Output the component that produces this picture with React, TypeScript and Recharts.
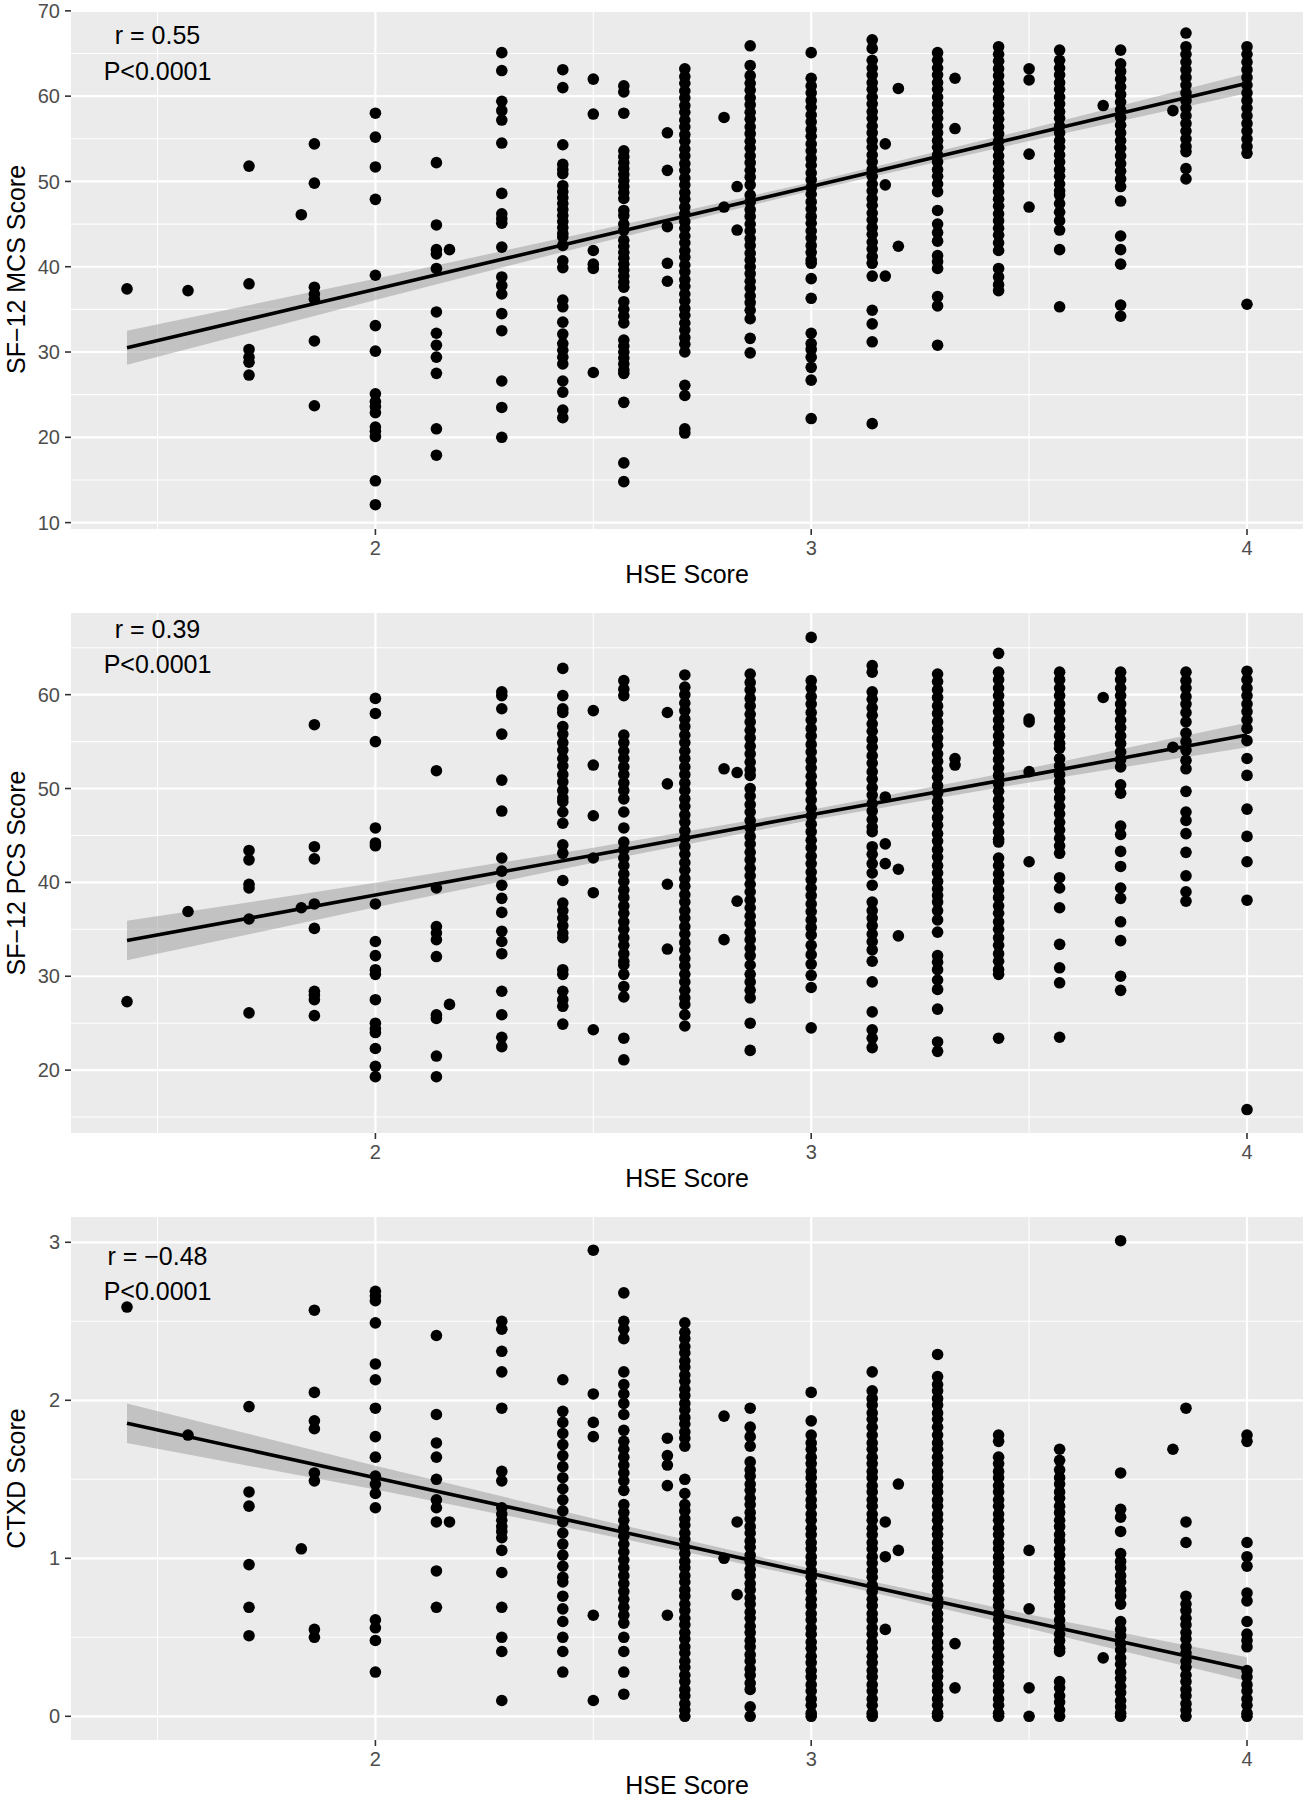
import React from 'react';
import {
  ComposedChart,
  Scatter,
  Line,
  Area,
  XAxis,
  YAxis,
  CartesianGrid,
  ReferenceDot,
  Label,
} from 'recharts';

const FONT = '"Liberation Sans", Arial, Helvetica, sans-serif';

// ---------- shared x axis (HSE Score) ----------
const hseDomain: [number, number] = [1.3015, 4.1285];
const hseTicks = [2, 3, 4];
const hseMinor = [1.5, 2.5, 3.5];

type Col = [number, number[]];

// ---------- Panel 1 : SF-12 MCS ----------
const mcsTicks = [10, 20, 30, 40, 50, 60, 70];
const mcsMinor = [15, 25, 35, 45, 55, 65];
const mcsDomain: [number, number] = [9.25, 70.1];
const mcsColumns: Col[] = [
  [1.43, [37.4]],
  [1.57, [37.2]],
  [1.71, [51.8, 38.0, 30.3, 29.4, 28.8, 27.3]],
  [1.83, [46.1]],
  [1.86, [54.4, 49.8, 37.6, 36.8, 36.2, 31.3, 23.7]],
  [2.0, [58.0, 55.2, 51.7, 47.9, 39.0, 33.1, 30.1, 25.1, 24.2, 23.6, 22.9, 21.2, 20.7, 20.1, 14.9, 12.1]],
  [2.14, [52.2, 44.9, 42.0, 41.5, 39.8, 34.7, 32.2, 30.8, 29.4, 27.5, 21.0, 17.9]],
  [2.17, [42.0]],
  [2.29, [65.1, 63.0, 59.4, 58.3, 57.2, 54.5, 48.6, 46.2, 45.6, 45.1, 42.3, 38.8, 37.8, 36.8, 34.5, 32.5, 26.6, 23.5, 20.0]],
  [2.43, [63.1, 61.0, 54.3, 52.0, 51.4, 50.9, 49.5, 48.8, 48.1, 47.4, 46.7, 46.0, 45.3, 44.6, 43.9, 43.5, 42.5, 40.7, 39.9, 36.1, 35.3, 33.5, 32.1, 31.0, 30.2, 29.4, 28.6, 26.6, 25.3, 23.2, 22.3]],
  [2.5, [62.0, 57.9, 41.9, 40.3, 39.8, 27.6]],
  [2.57, [61.2, 60.5, 58.0, 53.6, 52.9, 52.2, 51.5, 50.8, 50.1, 49.4, 48.7, 48.0, 46.6, 46.0, 45.0, 44.3, 43.1, 42.4, 41.7, 41.0, 40.3, 39.6, 38.9, 38.2, 37.6, 35.9, 35.0, 34.2, 33.4, 31.4, 30.7, 30.0, 29.3, 28.6, 27.9, 27.5, 24.1, 17.0, 14.8]],
  [2.67, [55.7, 51.3, 44.7, 40.4, 38.3]],
  [2.71, [63.2, 62.3, 61.5, 60.6, 59.8, 58.9, 58.1, 57.2, 56.4, 55.5, 54.7, 53.8, 53.0, 52.1, 51.3, 50.4, 49.6, 48.7, 47.9, 47.0, 46.2, 45.3, 44.5, 43.6, 42.8, 41.9, 41.1, 40.2, 39.4, 38.5, 37.7, 36.8, 36.0, 35.1, 34.3, 33.4, 32.6, 31.7, 30.9, 30.0, 26.1, 24.9, 21.0, 20.5]],
  [2.8, [57.5, 47.0]],
  [2.83, [49.4, 44.3]],
  [2.86, [65.9, 63.6, 62.4, 61.5, 60.7, 59.8, 59.0, 58.1, 57.3, 56.4, 55.6, 54.7, 53.9, 53.0, 52.2, 51.3, 50.5, 49.6, 48.4, 47.6, 46.7, 45.9, 45.0, 44.2, 43.3, 42.5, 41.6, 40.8, 40.0, 39.2, 38.3, 37.5, 36.6, 35.8, 34.9, 33.9, 31.6, 29.9]],
  [3.0, [65.1, 62.1, 61.2, 60.4, 59.5, 58.7, 57.8, 57.0, 56.1, 55.3, 54.4, 53.6, 52.7, 51.9, 51.0, 50.2, 49.3, 48.5, 47.6, 46.8, 45.9, 45.1, 44.2, 43.4, 42.5, 41.7, 40.8, 40.4, 38.6, 36.3, 32.2, 31.0, 30.3, 29.4, 28.2, 26.7, 22.2]],
  [3.14, [66.6, 65.6, 64.2, 63.3, 62.5, 61.6, 60.8, 59.9, 59.1, 58.2, 57.4, 56.5, 55.7, 54.8, 54.0, 53.1, 52.3, 51.4, 50.6, 49.7, 48.9, 48.0, 47.2, 46.3, 45.5, 44.6, 43.8, 42.9, 42.1, 41.2, 40.4, 38.9, 34.9, 33.3, 31.2, 21.6]],
  [3.17, [54.4, 49.6, 38.9]],
  [3.2, [60.9, 42.4]],
  [3.29, [65.1, 64.2, 63.3, 62.5, 61.6, 60.8, 59.9, 59.1, 58.2, 57.4, 56.5, 55.7, 54.8, 54.0, 53.1, 52.3, 51.4, 50.6, 49.7, 48.8, 46.6, 45.0, 44.0, 43.0, 41.3, 40.6, 39.8, 36.5, 35.4, 30.8]],
  [3.33, [62.1, 56.2]],
  [3.43, [65.8, 64.9, 64.1, 63.2, 62.4, 61.5, 60.7, 59.8, 59.0, 58.1, 57.3, 56.4, 55.6, 54.7, 53.9, 53.0, 52.2, 51.3, 50.5, 49.6, 48.8, 47.9, 47.1, 46.2, 45.4, 44.5, 43.7, 42.8, 41.9, 39.8, 38.8, 37.9, 37.2]],
  [3.5, [63.2, 61.9, 53.2, 47.0]],
  [3.57, [65.4, 64.2, 63.3, 62.5, 61.6, 60.8, 59.9, 59.1, 58.2, 57.4, 56.5, 55.7, 54.8, 54.0, 53.1, 52.3, 51.4, 50.6, 49.7, 48.9, 48.4, 47.4, 46.4, 45.4, 44.3, 42.0, 35.3]],
  [3.67, [58.9]],
  [3.71, [65.4, 63.8, 62.9, 62.0, 61.1, 60.2, 59.3, 58.4, 57.5, 56.6, 55.7, 54.8, 53.9, 53.0, 52.1, 51.2, 50.3, 49.4, 47.7, 43.6, 42.0, 40.3, 35.5, 34.2]],
  [3.83, [58.3]],
  [3.86, [67.4, 65.8, 64.9, 64.0, 63.1, 62.2, 61.3, 60.4, 59.5, 58.6, 57.7, 56.8, 55.9, 55.0, 54.1, 53.5, 51.5, 50.3]],
  [4.0, [65.8, 64.9, 64.0, 63.1, 62.2, 61.3, 60.4, 59.5, 58.6, 57.7, 56.8, 55.9, 55.0, 54.1, 53.3, 35.6]],
];
const mcsFitX = [1.43, 2.0, 2.5, 3.0, 3.5, 4.0];
const mcsFit = [30.5, 37.35, 43.4, 49.4, 55.45, 61.5];
const mcsLow = [28.5, 36.1, 42.65, 48.9, 54.75, 60.35];
const mcsHigh = [32.5, 38.6, 44.15, 49.9, 56.15, 62.65];

// ---------- Panel 2 : SF-12 PCS ----------
const pcsTicks = [20, 30, 40, 50, 60];
const pcsMinor = [15, 25, 35, 45, 55, 65];
const pcsDomain: [number, number] = [13.3, 68.7];
const pcsColumns: Col[] = [
  [1.43, [27.3]],
  [1.57, [36.9]],
  [1.71, [43.4, 42.4, 39.8, 39.4, 36.1, 26.1]],
  [1.83, [37.3]],
  [1.86, [56.8, 43.8, 42.5, 37.7, 35.1, 28.4, 28.0, 27.5, 25.8]],
  [2.0, [59.6, 58.0, 55.0, 45.8, 44.2, 43.9, 37.7, 33.7, 32.2, 30.7, 30.2, 27.5, 25.0, 24.4, 24.0, 22.3, 20.4, 19.3]],
  [2.14, [51.9, 39.4, 35.3, 34.6, 33.9, 32.1, 25.9, 25.5, 21.5, 19.3]],
  [2.17, [27.0]],
  [2.29, [60.3, 59.9, 58.5, 55.8, 50.9, 47.6, 42.6, 41.2, 39.7, 38.3, 36.8, 34.8, 33.7, 32.4, 28.4, 25.9, 23.5, 22.5]],
  [2.43, [62.8, 59.9, 58.5, 58.1, 56.6, 55.8, 54.9, 54.1, 53.2, 52.4, 51.5, 50.7, 49.8, 49.0, 48.6, 47.5, 46.3, 44.0, 43.1, 40.2, 37.8, 37.0, 36.2, 35.4, 34.6, 34.1, 30.7, 30.2, 28.4, 27.5, 26.8, 24.9]],
  [2.5, [58.3, 52.5, 47.1, 42.6, 38.9, 24.3]],
  [2.57, [61.5, 60.6, 59.9, 55.7, 54.9, 54.0, 53.2, 52.3, 51.5, 50.6, 49.8, 48.9, 47.5, 45.8, 44.3, 43.5, 42.6, 41.8, 40.9, 40.1, 39.2, 38.4, 37.5, 36.7, 35.8, 35.0, 34.1, 33.3, 32.4, 31.6, 31.2, 30.2, 28.9, 27.8, 23.4, 21.1]],
  [2.67, [58.1, 50.5, 39.8, 32.9]],
  [2.71, [62.1, 60.8, 60.0, 59.1, 58.3, 57.4, 56.6, 55.7, 54.9, 54.0, 53.2, 52.3, 51.5, 50.6, 49.8, 48.9, 48.1, 47.2, 46.4, 45.5, 44.7, 43.8, 43.0, 42.1, 41.3, 40.4, 39.6, 38.7, 37.9, 37.0, 36.2, 35.3, 34.5, 33.6, 32.8, 31.9, 31.1, 30.2, 29.4, 28.5, 27.7, 27.0, 25.9, 24.7]],
  [2.8, [52.1, 33.9]],
  [2.83, [51.7, 38.0]],
  [2.86, [62.2, 61.3, 60.5, 59.6, 58.8, 57.9, 57.1, 56.2, 55.4, 54.5, 53.7, 52.8, 52.0, 51.4, 50.0, 49.2, 48.3, 47.5, 46.6, 45.8, 44.9, 44.1, 43.2, 42.4, 41.5, 40.7, 39.8, 39.0, 38.1, 37.3, 36.4, 35.6, 34.7, 33.9, 33.0, 32.2, 31.2, 30.2, 29.4, 28.5, 27.7, 25.0, 22.1]],
  [3.0, [66.1, 61.5, 60.7, 59.8, 59.0, 58.1, 57.3, 56.4, 55.6, 54.7, 53.9, 53.0, 52.2, 51.3, 50.5, 49.6, 48.8, 47.9, 47.1, 46.2, 45.4, 44.5, 43.7, 42.8, 42.0, 41.1, 40.3, 39.4, 38.6, 37.7, 36.9, 36.0, 35.2, 34.4, 33.3, 32.3, 31.3, 30.1, 28.8, 24.5]],
  [3.14, [63.1, 62.4, 60.3, 59.5, 58.6, 57.8, 56.9, 56.1, 55.2, 54.4, 53.5, 52.7, 51.8, 51.0, 50.1, 49.3, 48.4, 47.6, 46.7, 45.9, 45.4, 43.8, 43.0, 42.0, 41.0, 39.7, 37.9, 37.0, 36.2, 35.4, 34.5, 33.7, 32.8, 31.6, 29.4, 26.2, 24.3, 23.4, 22.4]],
  [3.17, [49.1, 44.1, 42.0]],
  [3.2, [41.4, 34.3]],
  [3.29, [62.2, 61.4, 60.5, 59.7, 58.8, 58.0, 57.1, 56.3, 55.4, 54.6, 53.7, 52.9, 52.0, 51.2, 50.3, 49.5, 48.6, 47.8, 46.9, 46.1, 45.2, 44.4, 43.5, 42.7, 41.8, 41.0, 40.1, 39.3, 38.6, 37.9, 37.0, 36.0, 34.7, 32.2, 31.5, 30.7, 29.6, 28.6, 26.5, 23.0, 22.0]],
  [3.33, [53.2, 52.5]],
  [3.43, [64.4, 62.4, 61.6, 60.7, 59.9, 59.0, 58.2, 57.3, 56.5, 55.6, 54.8, 53.9, 53.1, 52.2, 51.4, 50.5, 49.7, 48.8, 48.0, 47.1, 46.3, 45.4, 44.6, 44.3, 42.6, 41.8, 40.9, 40.1, 39.2, 38.4, 37.5, 36.7, 35.8, 35.0, 34.1, 33.3, 32.4, 31.6, 30.7, 30.2, 23.4]],
  [3.5, [57.4, 57.1, 51.8, 42.2]],
  [3.57, [62.4, 61.6, 60.7, 59.9, 59.0, 58.2, 57.3, 56.5, 55.6, 54.8, 54.3, 53.2, 52.4, 51.5, 50.7, 49.8, 49.0, 48.1, 47.3, 46.4, 45.6, 44.7, 43.9, 43.1, 40.5, 39.4, 37.3, 33.4, 30.9, 29.3, 23.5]],
  [3.67, [59.7]],
  [3.71, [62.4, 61.6, 60.7, 59.9, 59.0, 58.2, 57.3, 56.5, 55.6, 54.8, 53.9, 53.1, 52.3, 50.4, 49.5, 46.0, 45.1, 43.3, 41.7, 39.4, 38.3, 35.8, 33.8, 30.0, 28.5]],
  [3.83, [54.4]],
  [3.86, [62.4, 61.5, 60.7, 59.8, 59.0, 58.1, 57.1, 55.9, 55.0, 54.1, 53.0, 52.1, 49.7, 47.5, 46.6, 45.2, 43.2, 40.7, 39.0, 38.0]],
  [4.0, [62.5, 61.6, 60.7, 59.9, 59.0, 58.2, 57.3, 56.4, 55.1, 53.2, 51.4, 47.8, 44.9, 42.2, 38.1, 15.8]],
];
const pcsFitX = [1.43, 2.0, 2.5, 3.0, 3.5, 4.0];
const pcsFit = [33.8, 38.65, 42.9, 47.2, 51.4, 55.7];
const pcsLow = [31.7, 37.35, 42.1, 46.65, 50.65, 54.4];
const pcsHigh = [35.9, 39.95, 43.7, 47.75, 52.15, 57.0];

// ---------- Panel 3 : CTXD ----------
const ctxTicks = [0, 1, 2, 3];
const ctxMinor = [0.5, 1.5, 2.5];
const ctxDomain: [number, number] = [-0.15, 3.16];
const ctxColumns: Col[] = [
  [1.43, [2.59]],
  [1.57, [1.78]],
  [1.71, [1.96, 1.42, 1.33, 0.96, 0.69, 0.51]],
  [1.83, [1.06]],
  [1.86, [2.57, 2.05, 1.87, 1.82, 1.54, 1.49, 0.55, 0.5]],
  [2.0, [2.69, 2.66, 2.63, 2.49, 2.23, 2.13, 1.95, 1.77, 1.64, 1.52, 1.47, 1.41, 1.32, 0.61, 0.56, 0.48, 0.28]],
  [2.14, [2.41, 1.91, 1.73, 1.64, 1.5, 1.37, 1.32, 1.23, 0.92, 0.69]],
  [2.17, [1.23]],
  [2.29, [2.5, 2.45, 2.31, 2.18, 1.95, 1.55, 1.49, 1.32, 1.28, 1.24, 1.2, 1.17, 1.13, 1.05, 0.91, 0.69, 0.5, 0.41, 0.1]],
  [2.43, [2.13, 1.93, 1.86, 1.79, 1.72, 1.65, 1.58, 1.51, 1.44, 1.37, 1.3, 1.23, 1.16, 1.09, 1.02, 0.95, 0.88, 0.85, 0.76, 0.68, 0.6, 0.5, 0.41, 0.28]],
  [2.5, [2.95, 2.04, 1.86, 1.77, 0.64, 0.1]],
  [2.57, [2.68, 2.5, 2.45, 2.39, 2.18, 2.1, 2.04, 1.98, 1.91, 1.81, 1.74, 1.69, 1.64, 1.59, 1.54, 1.49, 1.43, 1.34, 1.29, 1.24, 1.19, 1.14, 1.09, 1.04, 0.99, 0.94, 0.89, 0.84, 0.79, 0.74, 0.69, 0.64, 0.59, 0.5, 0.41, 0.28, 0.14]],
  [2.67, [1.76, 1.65, 1.59, 1.46, 0.64]],
  [2.71, [2.49, 2.43, 2.39, 2.34, 2.3, 2.25, 2.21, 2.16, 2.12, 2.07, 2.03, 1.98, 1.94, 1.89, 1.85, 1.8, 1.76, 1.71, 1.5, 1.41, 1.34, 1.3, 1.25, 1.21, 1.16, 1.12, 1.07, 1.03, 0.98, 0.94, 0.89, 0.85, 0.8, 0.76, 0.71, 0.67, 0.62, 0.58, 0.53, 0.49, 0.44, 0.4, 0.35, 0.31, 0.26, 0.22, 0.17, 0.13, 0.08, 0.04, 0.0]],
  [2.8, [1.9, 1.0]],
  [2.83, [1.23, 0.77]],
  [2.86, [1.95, 1.83, 1.77, 1.71, 1.61, 1.56, 1.52, 1.47, 1.43, 1.38, 1.34, 1.29, 1.25, 1.2, 1.16, 1.11, 1.07, 1.02, 0.98, 0.93, 0.89, 0.84, 0.8, 0.75, 0.71, 0.66, 0.62, 0.57, 0.53, 0.48, 0.44, 0.39, 0.35, 0.3, 0.26, 0.21, 0.17, 0.06, 0.0]],
  [3.0, [2.05, 1.87, 1.78, 1.73, 1.69, 1.64, 1.6, 1.55, 1.51, 1.46, 1.42, 1.37, 1.33, 1.28, 1.24, 1.19, 1.15, 1.1, 1.06, 1.01, 0.97, 0.92, 0.88, 0.83, 0.79, 0.74, 0.7, 0.65, 0.61, 0.56, 0.52, 0.47, 0.43, 0.38, 0.34, 0.29, 0.25, 0.2, 0.16, 0.11, 0.07, 0.02, 0.0]],
  [3.14, [2.18, 2.06, 2.01, 1.97, 1.92, 1.88, 1.83, 1.78, 1.73, 1.69, 1.64, 1.6, 1.55, 1.51, 1.46, 1.42, 1.37, 1.33, 1.28, 1.24, 1.19, 1.15, 1.1, 1.06, 1.01, 0.97, 0.92, 0.88, 0.83, 0.79, 0.74, 0.7, 0.65, 0.61, 0.56, 0.52, 0.47, 0.43, 0.38, 0.34, 0.29, 0.25, 0.2, 0.16, 0.11, 0.07, 0.02, 0.0]],
  [3.17, [1.23, 1.01, 0.55]],
  [3.2, [1.47, 1.05]],
  [3.29, [2.29, 2.15, 2.1, 2.06, 2.01, 1.97, 1.92, 1.88, 1.83, 1.78, 1.73, 1.69, 1.64, 1.6, 1.55, 1.51, 1.46, 1.42, 1.37, 1.33, 1.28, 1.24, 1.19, 1.15, 1.1, 1.06, 1.01, 0.97, 0.92, 0.88, 0.83, 0.79, 0.74, 0.7, 0.65, 0.61, 0.56, 0.52, 0.47, 0.43, 0.38, 0.34, 0.29, 0.25, 0.2, 0.16, 0.11, 0.07, 0.02, 0.0]],
  [3.33, [0.46, 0.18]],
  [3.43, [1.78, 1.74, 1.64, 1.6, 1.55, 1.51, 1.46, 1.42, 1.37, 1.33, 1.28, 1.24, 1.19, 1.15, 1.1, 1.06, 1.01, 0.97, 0.92, 0.88, 0.83, 0.79, 0.74, 0.7, 0.65, 0.61, 0.56, 0.52, 0.47, 0.43, 0.38, 0.34, 0.29, 0.25, 0.2, 0.16, 0.11, 0.07, 0.02, 0.0]],
  [3.5, [1.05, 0.68, 0.18, 0.0]],
  [3.57, [1.69, 1.62, 1.56, 1.51, 1.47, 1.42, 1.38, 1.33, 1.29, 1.24, 1.2, 1.15, 1.11, 1.06, 1.02, 0.97, 0.93, 0.88, 0.84, 0.79, 0.75, 0.7, 0.66, 0.61, 0.57, 0.52, 0.48, 0.43, 0.41, 0.22, 0.18, 0.13, 0.09, 0.04, 0.0]],
  [3.67, [0.37]],
  [3.71, [3.01, 1.54, 1.31, 1.26, 1.17, 1.03, 0.98, 0.94, 0.89, 0.85, 0.8, 0.76, 0.71, 0.6, 0.55, 0.51, 0.46, 0.42, 0.37, 0.33, 0.28, 0.24, 0.19, 0.15, 0.1, 0.06, 0.02, 0.0]],
  [3.83, [1.69]],
  [3.86, [1.95, 1.23, 1.1, 0.76, 0.71, 0.67, 0.62, 0.58, 0.53, 0.49, 0.44, 0.4, 0.35, 0.31, 0.26, 0.22, 0.17, 0.13, 0.08, 0.04, 0.0]],
  [4.0, [1.78, 1.74, 1.1, 1.01, 0.95, 0.78, 0.73, 0.6, 0.52, 0.48, 0.44, 0.29, 0.25, 0.2, 0.16, 0.11, 0.07, 0.02, 0.0]],
];
const ctxFitX = [1.43, 2.0, 2.5, 3.0, 3.5, 4.0];
const ctxFit = [1.855, 1.51, 1.207, 0.904, 0.6, 0.298];
const ctxLow = [1.73, 1.435, 1.162, 0.874, 0.555, 0.223];
const ctxHigh = [1.98, 1.585, 1.252, 0.934, 0.645, 0.373];

// ---------- panel component ----------
type PanelProps = {
  top: number;
  marginTop: number;
  plotBottom: number;
  columns: Col[];
  fitX: number[];
  fit: number[];
  low: number[];
  high: number[];
  yDomain: [number, number];
  yTicks: number[];
  yMinor: number[];
  yTitle: string;
  rText: string;
  rY: number;
  pY: number;
};

const Dot = (p: any) => <circle cx={p.cx} cy={p.cy} r={5.8} fill="#000000" />;

function Panel(props: PanelProps) {
  const { top, marginTop, plotBottom, columns, fitX, fit, low, high, yDomain, yTicks, yMinor, yTitle, rText, rY, pY } = props;
  const H = 600;
  const points = columns.flatMap(([x, ys]) => ys.map((y) => ({ x, y })));
  const band = fitX.map((x, i) => ({ x, y: fit[i], band: [low[i], high[i]] }));

  const xTitle = (lp: any) => {
    const vb = lp.viewBox || { x: 71, y: plotBottom, width: 1232, height: 60 };
    return (
      <text x={vb.x + vb.width / 2} y={vb.y + 54} textAnchor="middle" fontSize={25} fill="#000" fontFamily={FONT}>
        HSE Score
      </text>
    );
  };
  const yTitleRender = (lp: any) => {
    const vb = lp.viewBox || { x: 0, y: marginTop, width: 71, height: plotBottom - marginTop };
    const cx = 25;
    const cy = vb.y + vb.height / 2;
    return (
      <text x={cx} y={cy} transform={`rotate(-90, ${cx}, ${cy})`} textAnchor="middle" fontSize={25} fill="#000" fontFamily={FONT}>
        {yTitle}
      </text>
    );
  };

  return (
    <div style={{ position: 'absolute', left: 0, top }}>
      <ComposedChart width={1309} height={H} data={band} margin={{ top: marginTop, right: 6, bottom: 0, left: 0 }}>
        <CartesianGrid fill="#EBEBEB" stroke="#FFFFFF" strokeWidth={1.1} verticalValues={hseMinor} horizontalValues={yMinor} />
        <CartesianGrid stroke="#FFFFFF" strokeWidth={2.2} verticalValues={hseTicks} horizontalValues={yTicks} />
        <XAxis
          dataKey="x"
          type="number"
          domain={hseDomain}
          ticks={hseTicks}
          allowDataOverflow
          interval={0}
          axisLine={false}
          tickLine={{ stroke: '#333333', strokeWidth: 1.6 }}
          tickSize={6}
          tickMargin={6}
          tick={{ fill: '#4D4D4D', fontSize: 20, fontFamily: FONT }}
          height={H - plotBottom}
        >
          <Label content={xTitle} />
        </XAxis>
        <YAxis
          dataKey="y"
          type="number"
          domain={yDomain}
          ticks={yTicks}
          allowDataOverflow
          interval={0}
          axisLine={false}
          tickLine={{ stroke: '#333333', strokeWidth: 1.6 }}
          tickSize={6}
          tickMargin={5}
          tick={{ fill: '#4D4D4D', fontSize: 20, fontFamily: FONT }}
          width={71}
        >
          <Label content={yTitleRender} />
        </YAxis>
        <Scatter data={points} shape={Dot} isAnimationActive={false} />
        <Area dataKey="band" type="linear" stroke="none" fill="#999999" fillOpacity={0.5} isAnimationActive={false} activeDot={false} />
        <Line dataKey="y" type="linear" stroke="#000000" strokeWidth={3.6} dot={false} activeDot={false} isAnimationActive={false} />
        <ReferenceDot x={1.5} y={rY} r={0} fill="none" stroke="none" label={{ value: rText, position: 'center', fontSize: 25, fill: '#000', fontFamily: FONT }} />
        <ReferenceDot x={1.5} y={pY} r={0} fill="none" stroke="none" label={{ value: 'P<0.0001', position: 'center', fontSize: 25, fill: '#000', fontFamily: FONT }} />
      </ComposedChart>
    </div>
  );
}

export default function App() {
  return (
    <div style={{ position: 'absolute', left: 0, top: 0, width: 1309, height: 1800, background: '#FFFFFF', fontFamily: FONT }}>
      <Panel
        top={0}
        marginTop={10}
        plotBottom={529}
        columns={mcsColumns}
        fitX={mcsFitX}
        fit={mcsFit}
        low={mcsLow}
        high={mcsHigh}
        yDomain={mcsDomain}
        yTicks={mcsTicks}
        yMinor={mcsMinor}
        yTitle="SF−12 MCS Score"
        rText="r = 0.55"
        rY={67.17}
        pY={62.95}
      />
      <Panel
        top={600}
        marginTop={13}
        plotBottom={533}
        columns={pcsColumns}
        fitX={pcsFitX}
        fit={pcsFit}
        low={pcsLow}
        high={pcsHigh}
        yDomain={pcsDomain}
        yTicks={pcsTicks}
        yMinor={pcsMinor}
        yTitle="SF−12 PCS Score"
        rText="r = 0.39"
        rY={66.94}
        pY={63.2}
      />
      <Panel
        top={1200}
        marginTop={17}
        plotBottom={540}
        columns={ctxColumns}
        fitX={ctxFitX}
        fit={ctxFit}
        low={ctxLow}
        high={ctxHigh}
        yDomain={ctxDomain}
        yTicks={ctxTicks}
        yMinor={ctxMinor}
        yTitle="CTXD Score"
        rText="r = −0.48"
        rY={2.913}
        pY={2.692}
      />
    </div>
  );
}
